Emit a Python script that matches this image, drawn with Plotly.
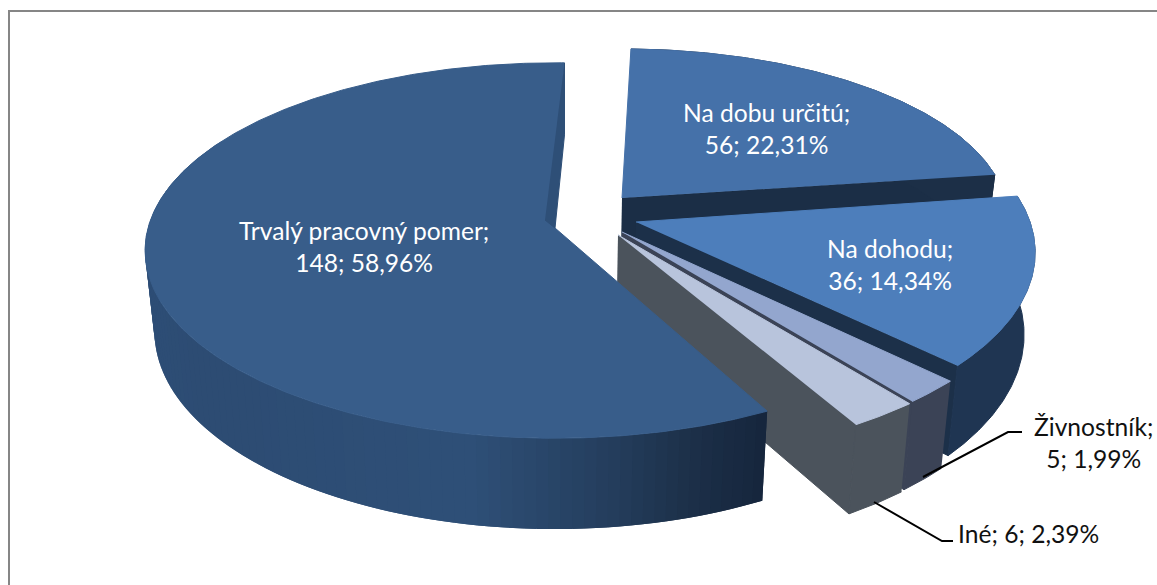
import numpy as np
import plotly.graph_objects as go

# ---- data ----
categories = ["Na dobu určitú", "Na dohodu", "Živnostník", "Iné", "Trvalý pracovný pomer"]
values = [56, 36, 5, 6, 148]

# ---- drawing style / view geometry ----
START = 1.5
K = 0.12; DEPTH = 80; VX = 555; S = 0.977
geom = [
    dict(ax=622, ay=198, rx=383, ry=167, top="#4571a9", wall="#1c2f47", cut="#1b2e46"),
    dict(ax=636, ay=222, rx=394, ry=186, k=0.16, top="#4d7ebb", wall="#1f3552", cut="#1c3049"),
    dict(ax=622, ay=232, rx=415, ry=199, top="#93a6ce", wall="#3b4356", cut="#3b4356"),
    dict(ax=618, ay=235, rx=417, ry=198, top="#b8c4dc", wall="#4b535c", cut="#4b535c"),
    dict(ax=555, ay=228, rx=407, ry=185, top="#385d8a", wall=None, cut=None, pad=3.0),
]
label_pos = [(766, 128), (890, 264), (1093, 442), (1028, 533), (364, 246)]
label_col = ["white", "white", "#111111", "#111111", "white"]
leaders = {2: ([923, 1008, 1022], [477, 432, 432]), 3: ([874, 942, 953], [502, 541, 541])}
grad_x = [140, 200, 450, 600, 680, 770]
grad_rgb = [(46, 78, 118), (45, 76, 115), (47, 80, 120), (36, 61, 92), (28, 47, 72), (20, 36, 58)]


def proj(g, theta, bottom=False):
    t = np.radians(theta)
    X, Y = np.sin(t), -np.cos(t)
    w = 1 / (1 - g.get("k", K) * Y)
    sx = g["ax"] + g["rx"] * X * w
    sy = g["ay"] + g["ry"] * Y * w
    if bottom:
        sx = VX + (sx - VX) * S
        sy = sy + DEPTH * w
    return sx, sy


fig = go.Figure()


def poly(xs, ys, color, name, lw=1):
    fig.add_trace(go.Scatter(x=list(xs), y=list(ys), mode="lines", fill="toself", fillcolor=color,
                             line=dict(color=color, width=lw), name=name, hoverinfo="name",
                             showlegend=False))


total = sum(values)
spans = []
a = START
for v in values:
    spans.append((a, a + v / total * 360))
    a += v / total * 360

for g, (a0, a1), cat in zip(geom, spans, categories):
    a0 = a0 + g.get("pad", 0)
    th = np.linspace(a0, a1, max(int((a1 - a0) * 2), 12))
    tx, ty = proj(g, th)
    bx, by = proj(g, th, True)
    if g["wall"]:
        # cut face at the clockwise end of the slice
        ex, ey = proj(g, a1)
        fx, fy = proj(g, a1, True)
        abx = VX + (g["ax"] - VX) * S
        poly([g["ax"], ex, fx, abx], [g["ay"], ey, fy, g["ay"] + DEPTH], g["cut"], cat)
        poly(np.r_[tx, bx[::-1]], np.r_[ty, by[::-1]], g["wall"], cat)
    else:
        # outer wall with horizontal shading; each strip overlaps the previous one to hide seams
        vis = th[th < 300]
        step = 3
        for i in range(0, len(vis) - 1, step):
            t2 = vis[max(i - step, 0): i + step + 1]
            x1, y1 = proj(g, t2)
            x2, y2 = proj(g, t2, True)
            mx = x1[-1]
            c = [np.interp(mx, grad_x, [r[j] for r in grad_rgb]) for j in range(3)]
            col = "rgb(%d,%d,%d)" % tuple(c)
            poly(np.r_[x1, x2[::-1]], np.r_[y1, y2[::-1]], col, cat, lw=0)
    poly(np.r_[g["ax"], tx], np.r_[g["ay"], ty], g["top"], cat)
    if not g["wall"]:
        # darker sliver beside the upper straight edge
        ex, ey = proj(g, a1)
        poly([ex, ex, g["ax"], g["ax"] - 10], [ey, ey + 72, g["ay"], g["ay"] - 8], "#2e4f77", cat)

for i, (lx, ly) in leaders.items():
    fig.add_trace(go.Scatter(x=lx, y=ly, mode="lines", line=dict(color="black", width=2),
                             hoverinfo="skip", showlegend=False))


def fmt(cat, v):
    pct = f"{v / total * 100:.2f}".replace(".", ",")
    if cat == "Iné":
        return f"{cat}; {v}; {pct}%"
    return f"{cat};<br>{v}; {pct}%"


for i, (cat, v) in enumerate(zip(categories, values)):
    fig.add_annotation(x=label_pos[i][0], y=label_pos[i][1], text=fmt(cat, v), showarrow=False,
                       font=dict(family="Lato", size=24.6, color=label_col[i]), align="center")

fig.update_layout(
    width=1157, height=585, margin=dict(l=0, r=0, t=0, b=0),
    paper_bgcolor="white", plot_bgcolor="white", showlegend=False,
    xaxis=dict(range=[0, 1157], visible=False, fixedrange=True),
    yaxis=dict(range=[585, 0], visible=False, fixedrange=True),
    shapes=[
        dict(type="line", x0=9, x1=1157, y0=11, y1=11, line=dict(color="#868686", width=2)),
        dict(type="line", x0=9, x1=9, y0=10, y1=585, line=dict(color="#868686", width=2)),
    ],
)
fig.write_html("out.html", config={"displayModeBar": False},
               post_script="document.body.style.margin='0';document.body.style.overflow='hidden';")
